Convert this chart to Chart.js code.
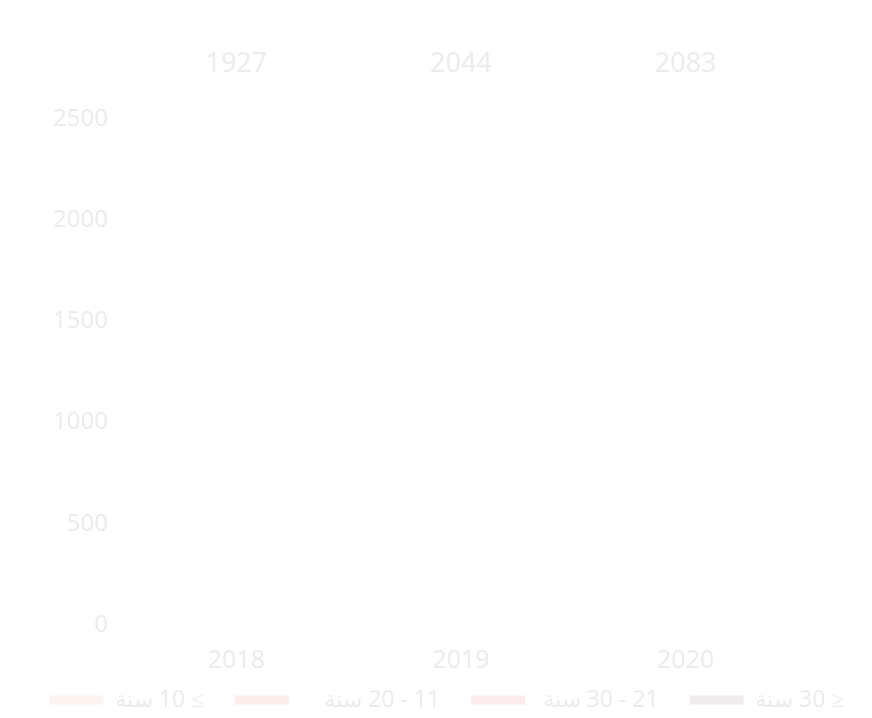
<!DOCTYPE html>
<html>
<head>
<meta charset="utf-8">
<script src="https://cdn.jsdelivr.net/npm/chart.js@4/dist/chart.umd.min.js"></script>
<style>
  html, body { margin: 0; padding: 0; background: #ffffff; }
  #wrap { width: 872px; height: 718px; }
</style>
</head>
<body>
<div id="wrap"><canvas id="c"></canvas></div>
<script>
// ---- data ----
const categories = ['2018', '2019', '2020'];
const totals = [1927, 2044, 2083];
const seriesNames = ['≥ 10 سنة', '11 - 20 سنة', '21 - 30 سنة', '≤ 30 سنة'];
// bars are drawn at zero height in the reference picture
const upTo10 = [0, 0, 0];
const from11to20 = [0, 0, 0];
const from21to30 = [0, 0, 0];
const over30 = [0, 0, 0];
const yTicks = [0, 500, 1000, 1500, 2000, 2500];

// legend spacing (style only): trailing spaces shown at the visual left in RTL text
const legendGap = [0, 4, 1, 0];

function dotPattern() {
  const p = document.createElement('canvas');
  p.width = 4; p.height = 4;
  const g = p.getContext('2d');
  g.fillStyle = '#fcecee'; g.fillRect(0, 0, 4, 4);
  g.fillStyle = '#f9e1e5';
  g.fillRect(0, 0, 1, 1); g.fillRect(2, 2, 1, 1);
  return g.createPattern(p, 'repeat');
}

const textColor = '#ececec';
const font = 'Noto Sans';

new Chart(document.getElementById('c'), {
  type: 'bar',
  data: {
    labels: categories,
    datasets: [
      { label: seriesNames[0], data: upTo10, backgroundColor: '#fdf3f1' },
      { label: seriesNames[1], data: from11to20, backgroundColor: '#fcecec' },
      { label: seriesNames[2], data: from21to30, backgroundColor: dotPattern() },
      { label: seriesNames[3], data: over30, backgroundColor: '#f0ecee' }
    ]
  },
  options: {
    responsive: true,
    maintainAspectRatio: false,
    animation: false,
    layout: { padding: { top: 9, left: 0, right: -3, bottom: -3.5 } },
    plugins: {
      tooltip: { enabled: false },
      legend: {
        position: 'bottom',
        align: 'end',
        textDirection: 'rtl',
        title: { display: true, text: '', font: { size: 1 }, padding: { top: -23.7, bottom: 0 } },
        labels: {
          color: textColor,
          boxWidth: 54,
          boxHeight: 9,
          padding: 31,
          font: { family: font, size: 23 },
          generateLabels: (chart) => {
            const items = Chart.defaults.plugins.legend.labels.generateLabels(chart);
            items.forEach((it, i) => { it.text = it.text + ' '.repeat(legendGap[i]); });
            return items;
          }
        }
      }
    },
    scales: {
      x: {
        stacked: true,
        grid: { display: false, drawTicks: false },
        border: { display: false },
        afterFit: (s) => { s.height = 55; },
        ticks: { color: textColor, padding: 21, font: { family: font, size: 25 } }
      },
      xTop: {
        type: 'category',
        position: 'top',
        labels: totals.map(String),
        offset: true,
        grid: { display: false, drawTicks: false },
        border: { display: false },
        ticks: { color: textColor, padding: 38.8, font: { family: font, size: 27 } }
      },
      y: {
        stacked: true,
        min: 0,
        max: 2500,
        afterBuildTicks: (s) => { s.ticks = yTicks.map(v => ({ value: v })); },
        afterFit: (s) => { s.width = 124; },
        grid: { display: false, drawTicks: false },
        border: { display: false },
        ticks: { color: textColor, padding: 16, font: { family: font, size: 24 }, callback: (v) => String(v) }
      },
      yRight: {
        type: 'linear',
        position: 'right',
        display: true,
        afterFit: (s) => { s.width = 77; },
        grid: { display: false, drawTicks: false },
        border: { display: false },
        ticks: { display: false }
      }
    }
  }
});
</script>
</body>
</html>
